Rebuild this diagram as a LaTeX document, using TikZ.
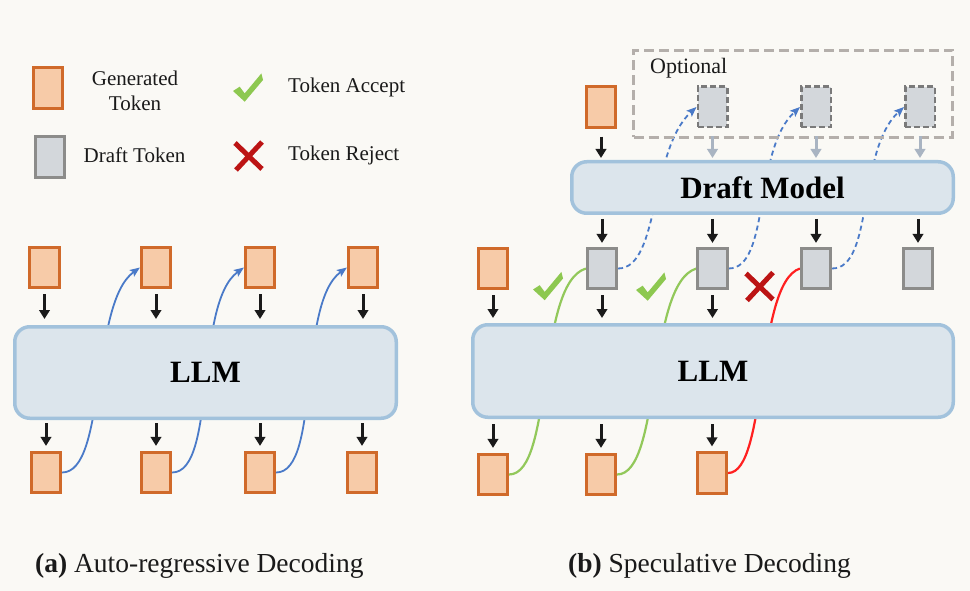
\documentclass[tikz,border=0pt]{standalone}
\usepackage{fontspec}
\setmainfont{Liberation Serif}
\usetikzlibrary{arrows.meta}
\pgfdeclarelayer{back}
\pgfdeclarelayer{bg}
\pgfsetlayers{back,bg,main}
\definecolor{bgc}{HTML}{FAF9F5}
\definecolor{orfill}{HTML}{F7CBA8}
\definecolor{ordraw}{HTML}{D06A2A}
\definecolor{grfill}{HTML}{D3D7DB}
\definecolor{grdraw}{HTML}{8C8C8A}
\definecolor{grdash}{HTML}{7A7A7A}
\definecolor{mfill}{HTML}{DCE5EC}
\definecolor{mdraw}{HTML}{A2C2DC}
\definecolor{bluec}{HTML}{4A7AC8}
\definecolor{greenc}{HTML}{92C85A}
\definecolor{redc}{HTML}{FF2020}
\definecolor{crossc}{HTML}{BC1414}
\definecolor{checkc}{HTML}{8DC850}
\definecolor{optc}{HTML}{B4AFAB}
\definecolor{garr}{HTML}{A9B4C2}
\definecolor{blk}{HTML}{1A1A1A}
\tikzset{
  gentok/.style={rectangle, fill=orfill, draw=ordraw, line width=2.7pt, minimum width=29.5pt, minimum height=40.5pt, inner sep=0pt},
  drafttok/.style={rectangle, fill=grfill, draw=grdraw, line width=2.7pt, minimum width=29.5pt, minimum height=40.5pt, inner sep=0pt},
  dashtok/.style={rectangle, fill=grfill, draw=grdash, line width=2.5pt, dash pattern=on 6pt off 3pt, minimum width=29.5pt, minimum height=40.5pt, inner sep=0pt},
  modelbox/.style={rectangle, rounded corners=15pt, fill=mfill, draw=mdraw, line width=3.5pt, inner sep=0pt, font=\fontsize{31}{36}\selectfont\bfseries},
  optbox/.style={rectangle, draw=optc, line width=3pt, dash pattern=on 10pt off 5pt, inner sep=0pt},
  arr/.style={draw=blk, line width=3pt, -{Triangle[length=9pt,width=10.5pt]}},
  garrow/.style={draw=garr, line width=3pt, -{Triangle[length=9pt,width=10.5pt]}},
  bluecurve/.style={draw=bluec, line width=1.8pt, -{Stealth[length=10pt,width=8pt,inset=2pt]}},
  bluedash/.style={draw=bluec, line width=1.8pt, dash pattern=on 5pt off 3.5pt, -{Stealth[length=10pt,width=8pt,inset=2pt]}},
  greencurve/.style={draw=greenc, line width=2.2pt},
  redcurve/.style={draw=redc, line width=2.2pt},
  legtext/.style={font=\fontsize{21}{25}\selectfont, inner sep=0pt, text=blk},
  captext/.style={font=\fontsize{27.5}{32}\selectfont, inner sep=0pt, text=blk},
  chk/.pic={\fill[checkc, line join=round] (-15,3.5) -- (-8.3,-0.8) -- (-3.3,5.9) -- (13.4,-14.1) -- (15,-7.5) -- (-3.3,14.2) -- cycle;},
  xmark/.pic={\draw[crossc, line width=5pt] (-13.5,-13) -- (13.5,13) (13.5,-14) -- (-12.5,14);}
}
\begin{document}
\begin{tikzpicture}[x=1pt,y=-1pt]
\begin{pgfonlayer}{back}
\fill[bgc] (0,0) rectangle (970,591);
\end{pgfonlayer}
\useasboundingbox (0,0) rectangle (970,591);

% ---------- legend ----------
\node[gentok, minimum height=41.5pt] (lg) at (48,88) {};
\node[legtext, align=center] (lgt) at (135,90.5) {Generated\\Token};
\node[drafttok] (ld) at (50,157) {};
\node[legtext] (ldt) at (134.5,155) {Draft Token};
\pic at (248,87.5) {chk};
\node[legtext, anchor=west] (lat) at (288,87) {Token Accept};
\pic at (248.5,156) {xmark};
\node[legtext, anchor=west] (lrt) at (288,155) {Token Reject};

% ---------- (a) auto-regressive ----------
\node[modelbox, minimum width=381.5pt, minimum height=91.5pt] (llmA) at (205.5,372.5) {LLM};
\node[gentok] (t1) at (44.5,267.5) {};
\node[gentok] (t2) at (156,267.5) {};
\node[gentok] (t3) at (260,267.5) {};
\node[gentok] (t4) at (363,267.5) {};
\node[gentok] (b1) at (46,472.5) {};
\node[gentok] (b2) at (156,472.5) {};
\node[gentok] (b3) at (260,472.5) {};
\node[gentok] (b4) at (362,472.5) {};
\foreach \n in {t1,t2,t3,t4}{
  \draw[arr, shorten <=5pt, shorten >=6pt] (\n.south) -- (\n.south |- llmA.north);
}
\foreach \n in {b1,b2,b3,b4}{
  \draw[arr, shorten <=3pt, shorten >=5pt] (\n.north |- llmA.south) -- (\n.north);
}
\begin{pgfonlayer}{bg}
\draw[bluecurve] (b1.east) .. controls +(45,0) and +(-50,36) .. (t2.west);
\draw[bluecurve] (b2.east) .. controls +(45,0) and +(-50,36) .. (t3.west);
\draw[bluecurve] (b3.east) .. controls +(45,0) and +(-50,36) .. (t4.west);
\end{pgfonlayer}

% ---------- (b) speculative ----------
\node[optbox, minimum width=319pt, minimum height=87pt] (opt) at (793,94) {};
\node[legtext, anchor=west, font=\fontsize{22}{26}\selectfont] (optt) at (650,68) {Optional};
\node[gentok] (g0) at (601,107) {};
\node[dashtok] (o1) at (712.5,107) {};
\node[dashtok] (o2) at (816,107) {};
\node[dashtok] (o3) at (920,107) {};
\node[modelbox, minimum width=381.5pt, minimum height=51.5pt] (dm) at (762.5,187.5) {Draft Model};
\node[gentok] (r0) at (493,268.5) {};
\node[drafttok] (d1) at (602,268.5) {};
\node[drafttok] (d2) at (712.5,268.5) {};
\node[drafttok] (d3) at (816,268.5) {};
\node[drafttok] (d4) at (918,268.5) {};
\node[modelbox, minimum width=480.5pt, minimum height=92.5pt] (llmB) at (713,371) {LLM};
\node[gentok] (c1) at (493,474.5) {};
\node[gentok] (c2) at (601,474.5) {};
\node[gentok] (c3) at (712,473) {};

\draw[arr, shorten <=8pt, shorten >=2pt] (g0.south) -- (g0.south |- dm.north);
\foreach \n in {o1,o2,o3}{
  \draw[garrow, shorten <=8pt, shorten >=2pt] (\n.south) -- (\n.south |- dm.north);
}
\foreach \n in {d1,d2,d3,d4}{
  \draw[arr, shorten <=4pt, shorten >=4pt] (\n.north |- dm.south) -- (\n.north);
}
\foreach \n in {r0,d1,d2}{
  \draw[arr, shorten <=5pt, shorten >=5pt] (\n.south) -- (\n.south |- llmB.north);
}
\foreach \n in {c1,c2,c3}{
  \draw[arr, shorten <=5pt, shorten >=5pt] (\n.north |- llmB.south) -- (\n.north);
}
\begin{pgfonlayer}{bg}
\draw[greencurve] (c1.east) .. controls +(45,0) and +(-50,15) .. (d1.west);
\draw[greencurve] (c2.east) .. controls +(45,0) and +(-50,15) .. (d2.west);
\draw[redcurve] (c3.east) .. controls +(40,0) and +(-45,15) .. (d3.west);
\draw[bluedash] (d1.east) .. controls +(42,0) and +(-47,43) .. (o1.west);
\draw[bluedash] (d2.east) .. controls +(42,0) and +(-47,43) .. (o2.west);
\draw[bluedash] (d3.east) .. controls +(42,0) and +(-47,43) .. (o3.west);
\end{pgfonlayer}
\pic at (548,286) {chk};
\pic at (651,286.5) {chk};
\pic at (759.5,286.5) {xmark};

% ---------- captions ----------
\node[captext, anchor=base west] (capa) at (35,572) {\textbf{(a)} Auto-regressive Decoding};
\node[captext, anchor=base west] (capb) at (568,572) {\textbf{(b)} Speculative Decoding};
\end{tikzpicture}
\end{document}
